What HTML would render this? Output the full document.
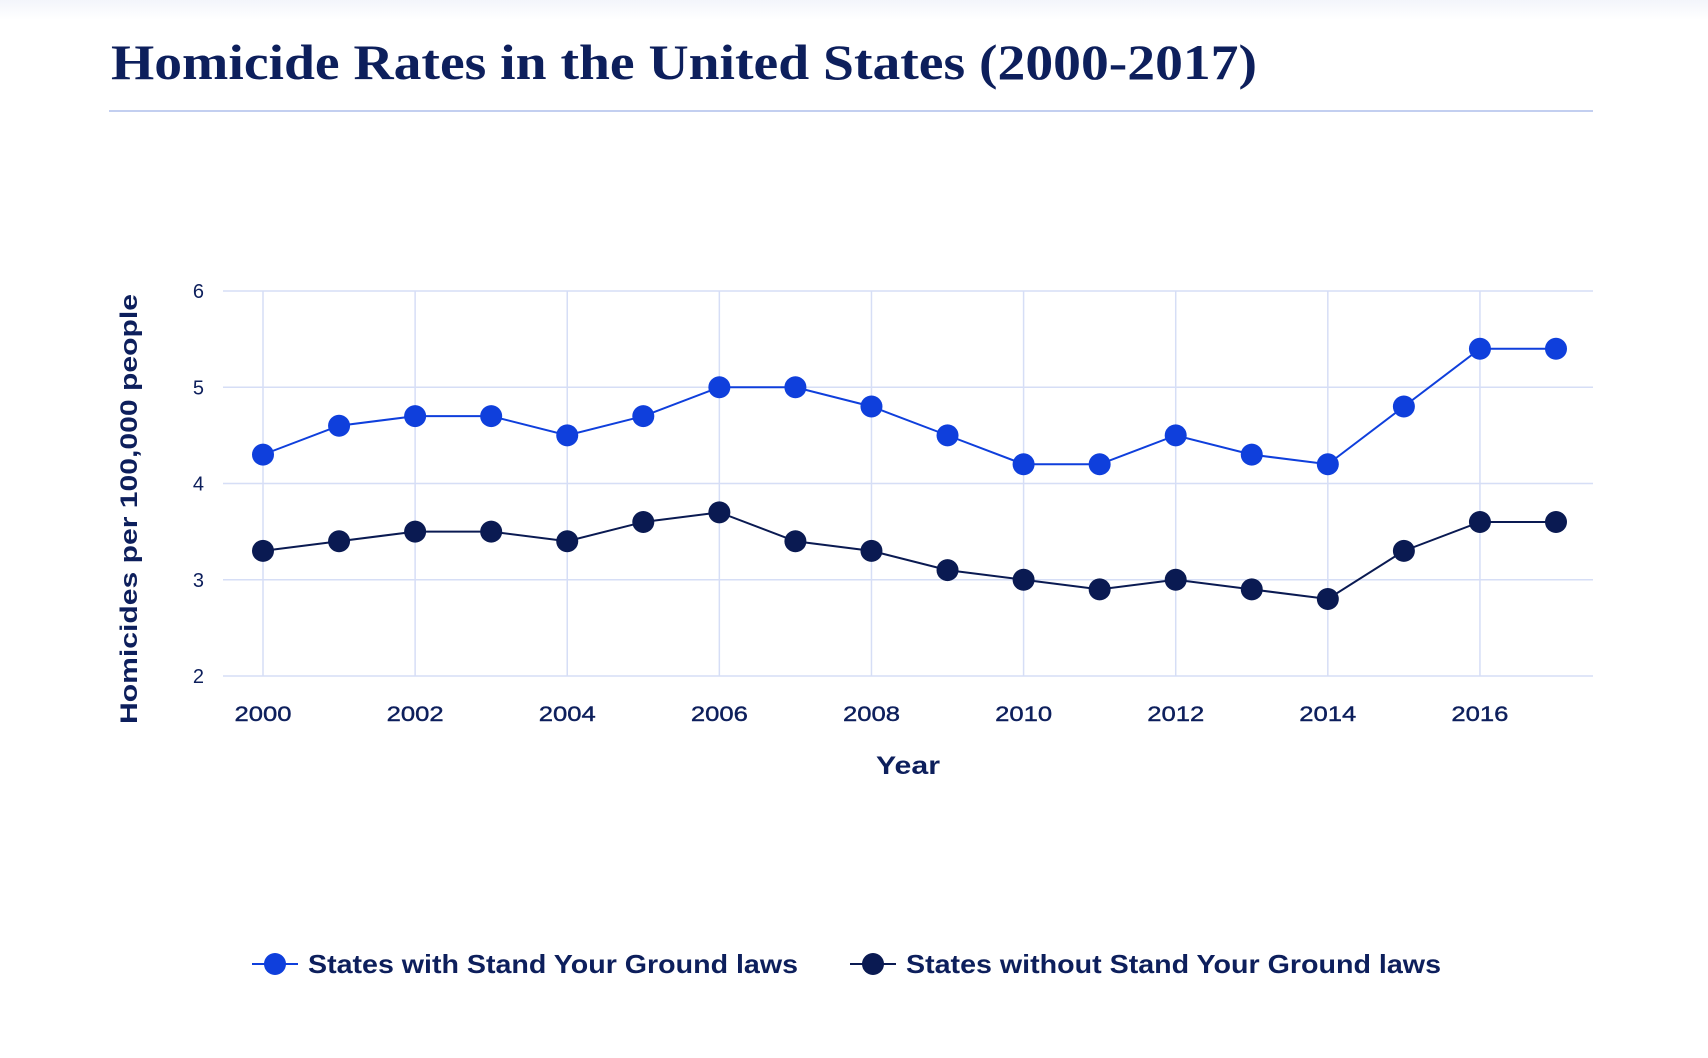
<!DOCTYPE html>
<html><head><meta charset="utf-8"><style>
html,body{margin:0;padding:0;background:#fff;}
svg{display:block;}
</style></head><body>
<svg id="chart" width="1708" height="1058" viewBox="0 0 1708 1058" xmlns="http://www.w3.org/2000/svg">
<defs><linearGradient id="topg" x1="0" y1="0" x2="0" y2="1"><stop offset="0" stop-color="#f3f5fb"/><stop offset="1" stop-color="#ffffff"/></linearGradient></defs>
<rect x="0" y="0" width="1708" height="20" fill="url(#topg)"/>
<text x="111" y="79" font-family="Liberation Serif, serif" font-weight="bold" font-size="50" fill="#0d1f5c" textLength="1146" lengthAdjust="spacingAndGlyphs">Homicide Rates in the United States (2000-2017)</text>
<line x1="109" y1="111" x2="1593" y2="111" stroke="#c3cff0" stroke-width="2"/>
<g id="grid"></g>
<g id="axes"></g>
<g id="series"></g>
<text transform="translate(137,509) rotate(-90)" text-anchor="middle" font-family="Liberation Sans, sans-serif" font-weight="bold" font-size="24" fill="#0d1f5c" textLength="430" lengthAdjust="spacingAndGlyphs">Homicides per 100,000 people</text>
<text x="908" y="774" text-anchor="middle" font-family="Liberation Sans, sans-serif" font-weight="bold" font-size="25" fill="#0d1f5c" textLength="64" lengthAdjust="spacingAndGlyphs">Year</text>
<g>
 <g>
  <line x1="252" y1="964" x2="298" y2="964" stroke="#0f3fdc" stroke-width="2"/>
  <circle cx="275" cy="964" r="11" fill="#0f3fdc"/>
  <text x="308" y="973" font-family="Liberation Sans, sans-serif" font-size="26" font-weight="bold" fill="#0d1f5c" textLength="490" lengthAdjust="spacingAndGlyphs">States with Stand Your Ground laws</text>
 </g>
 <g>
  <line x1="850" y1="964" x2="896" y2="964" stroke="#0a1a52" stroke-width="2"/>
  <circle cx="873" cy="964" r="11" fill="#0a1a52"/>
  <text x="906" y="973" font-family="Liberation Sans, sans-serif" font-size="26" font-weight="bold" fill="#0d1f5c" textLength="535" lengthAdjust="spacingAndGlyphs">States without Stand Your Ground laws</text>
 </g>
</g>
</svg>
<script>
const years = [2000,2001,2002,2003,2004,2005,2006,2007,2008,2009,2010,2011,2012,2013,2014,2015,2016,2017];
const withSYG = [4.3,4.6,4.7,4.7,4.5,4.7,5.0,5.0,4.8,4.5,4.2,4.2,4.5,4.3,4.2,4.8,5.4,5.4];
const withoutSYG = [3.3,3.4,3.5,3.5,3.4,3.6,3.7,3.4,3.3,3.1,3.0,2.9,3.0,2.9,2.8,3.3,3.6,3.6];
const yTicks = [2,3,4,5,6];
const xTickLabels = [2000,2002,2004,2006,2008,2010,2012,2014,2016];

const NS='http://www.w3.org/2000/svg';
const x0=263, x1=1556, y0=676, y1=291, plotL=223, plotR=1593;
const xs = v => x0 + (v-years[0])*(x1-x0)/(years[years.length-1]-years[0]);
const ys = v => y0 - (v-2)*(y0-y1)/(6-2);
function mk(tag, attrs, parent){const e=document.createElementNS(NS,tag);for(const k in attrs)e.setAttribute(k,attrs[k]);parent.appendChild(e);return e;}
const grid=document.getElementById('grid'), axes=document.getElementById('axes'), ser=document.getElementById('series');
yTicks.forEach(t=>{
  const l=mk('line',{x1:plotL,x2:plotR,y1:ys(t),y2:ys(t),stroke:'#d6def6','stroke-width':1.5},grid);
  
  
  const tx=mk('text',{x:204,y:ys(t)+7,'text-anchor':'end','font-family':'Liberation Sans, sans-serif','font-size':20,fill:'#0d1f5c'},axes);
  tx.textContent=t;
  
  
});
xTickLabels.forEach(t=>{
  const l=mk('line',{x1:xs(t),x2:xs(t),y1:y1,y2:y0,stroke:'#d6def6','stroke-width':1.5},grid);
  
  
  const tx=mk('text',{x:xs(t),y:721,'text-anchor':'middle','font-family':'Liberation Sans, sans-serif','font-size':21,fill:'#0d1f5c','stroke':'#0d1f5c','stroke-width':0.4,textLength:57,lengthAdjust:'spacingAndGlyphs'},axes);
  tx.textContent=t;
  
  
});
function drawSeries(vals,color,name){
  const p=mk('polyline',{points:vals.map((v,i)=>xs(years[i])+','+ys(v)).join(' '),fill:'none',stroke:color,'stroke-width':2},ser);
  
  
  vals.forEach((v,i)=>{
    const c=mk('circle',{cx:xs(years[i]),cy:ys(v),r:11,fill:color},ser);
    
    
  });
}
drawSeries(withSYG,'#0f3fdc','with-syg');
drawSeries(withoutSYG,'#0a1a52','without-syg');
</script>
</body></html>
